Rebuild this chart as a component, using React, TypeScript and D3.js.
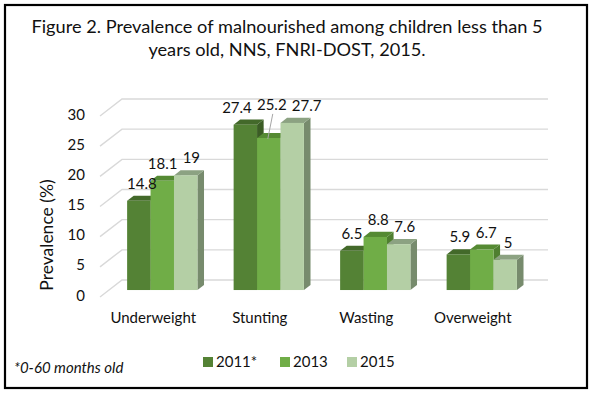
import * as d3 from 'd3';

const categories = ['Underweight', 'Stunting', 'Wasting', 'Overweight'];
const years = ['2011*', '2013', '2015'];
const values2011 = [14.8, 27.4, 6.5, 5.9];
const values2013 = [18.1, 25.2, 8.8, 6.7];
const values2015 = [19, 27.7, 7.6, 5];
const yTicks = [0, 5, 10, 15, 20, 25, 30];

const seriesValues = [values2011, values2013, values2015];

// front, top, side shades for each year
const faceColors = [
  { front: '#548235', top: '#43692a', side: '#3b5c25' },
  { front: '#70ad47', top: '#558a33', side: '#4f7f30' },
  { front: '#b4cfa5', top: '#8ca282', side: '#778b6d' }
];

const W = 593;
const H = 393;
const font = 'Lato, "Liberation Sans", sans-serif';

// oblique 3D projection: full depth of the floor
const depthX = 22;
const depthY = -17;
const barZ0 = 0.41;
const barZ1 = 0.71;

const labelWidth = (s: string) => s.replace('.', '').length * 8.4 + (s.includes('.') ? 3.6 : 0);

const App = (): JSX.Element => {
  const x0 = d3.scaleBand<string>().domain(categories).range([100, 526]).paddingInner(0.34).paddingOuter(0.17);
  const x1 = d3.scaleBand<string>().domain(years).range([0, x0.bandwidth()]);
  const y = d3.scaleLinear().domain([0, 30]).range([297, 116]);

  const bdx = depthX * barZ0;
  const bdy = depthY * barZ0;
  const ddx = depthX * (barZ1 - barZ0);
  const ddy = depthY * (barZ1 - barZ0);
  const w = x1.bandwidth();

  // label layout per category, nudged apart when they collide
  const labels = categories.map((c, ci) => {
    const items = years.map((yr, si) => {
      const v = seriesValues[si][ci];
      const xc = (x0(c) ?? 0) + (x1(yr) ?? 0) + bdx + w / 2 + 3;
      const yt = y(v) + bdy;
      const neighbours = seriesValues.map((s) => s[ci]).filter((_, k) => Math.abs(k - si) === 1);
      const maxN = Math.max(...neighbours);
      const lifted = si === 1 && maxN - v > 1.5;
      const labelY = lifted ? y(maxN) + bdy - 13 : yt - 12;
      const text = String(v);
      return { key: `${c}-${yr}`, text, x: xc, barX: xc, yt, labelY, lifted, wd: labelWidth(text) };
    });
    for (let iter = 0; iter < 30; iter++) {
      for (let k = 0; k < items.length - 1; k++) {
        const a = items[k];
        const b = items[k + 1];
        if (Math.abs(a.labelY - b.labelY) > 14) continue;
        const need = (a.wd + b.wd) / 2 + 6;
        const gap = b.x - a.x;
        if (gap < need) {
          const d = (need - gap) / 2;
          a.x -= d;
          b.x += d;
        }
      }
    }
    return items;
  });

  return (
    <svg width={W} height={H} style={{ position: 'absolute', left: 0, top: 0 }} fontFamily={font}>
      <rect x={0} y={0} width={W} height={H} fill="#fff" />
      <rect x={5} y={5} width={582} height={383} fill="none" stroke="#000" strokeWidth={2.2} />

      <text x={287} y={33} textAnchor="middle" fontSize={18.2} fill="#111">
        Figure 2. Prevalence of malnourished among children less than 5
      </text>
      <text x={287} y={56} textAnchor="middle" fontSize={18.2} fill="#111">
        years old, NNS, FNRI-DOST, 2015.
      </text>

      {/* side wall + back wall gridlines */}
      {yTicks.map((t) => {
        const yf = y(t);
        const path = d3.path();
        path.moveTo(100, yf);
        path.lineTo(100 + depthX, yf + depthY);
        path.lineTo(526 + depthX, yf + depthY);
        return <path key={t} d={path.toString()} fill="none" stroke="#d9d9d9" strokeWidth={1.4} />;
      })}

      {yTicks.map((t) => (
        <text key={t} x={85} y={y(t) + 3.5} textAnchor="end" fontSize={15} fill="#111">
          {t}
        </text>
      ))}

      <text transform={`translate(53,235) rotate(-90)`} textAnchor="middle" fontSize={17.5} fill="#111">
        Prevalence (%)
      </text>

      {categories.map((c, ci) => (
        <g key={c}>
          {years.map((yr, si) => {
            const v = seriesValues[si][ci];
            const xf = (x0(c) ?? 0) + (x1(yr) ?? 0) + bdx;
            const yt = y(v) + bdy;
            const yb = y(0) + bdy;
            const col = faceColors[si];
            const top = `${xf},${yt} ${xf + w},${yt} ${xf + w + ddx},${yt + ddy} ${xf + ddx},${yt + ddy}`;
            const side = `${xf + w},${yt} ${xf + w + ddx},${yt + ddy} ${xf + w + ddx},${yb + ddy} ${xf + w},${yb}`;
            return (
              <g key={yr}>
                <polygon points={side} fill={col.side} />
                <polygon points={top} fill={col.top} />
                <rect x={xf} y={yt} width={w} height={yb - yt} fill={col.front} />
              </g>
            );
          })}
        </g>
      ))}

      {/* data labels */}
      {labels.flat().map((l) => (
        <g key={l.key}>
          {l.lifted && (
            <line x1={l.x + 1} y1={l.labelY + 4} x2={l.barX - 4} y2={l.yt + 1} stroke="#a6a6a6" strokeWidth={1} />
          )}
          <text x={l.x} y={l.labelY} textAnchor="middle" fontSize={15} fill="#111">
            {l.text}
          </text>
        </g>
      ))}

      {categories.map((c) => (
        <text key={c} x={(x0(c) ?? 0) + x0.bandwidth() / 2} y={323} textAnchor="middle" fontSize={15} fill="#111">
          {c}
        </text>
      ))}

      <text x={14} y={373} fontSize={15} fontStyle="italic" fill="#111">
        *0-60 months old
      </text>

      {years.map((yr, si) => {
        const lx = [203, 280, 347][si];
        return (
          <g key={yr}>
            <rect x={lx} y={357} width={10} height={10} fill={faceColors[si].front} />
            <text x={lx + 13} y={367} fontSize={15} fill="#111">
              {yr}
            </text>
          </g>
        );
      })}
    </svg>
  );
};

export default App;
